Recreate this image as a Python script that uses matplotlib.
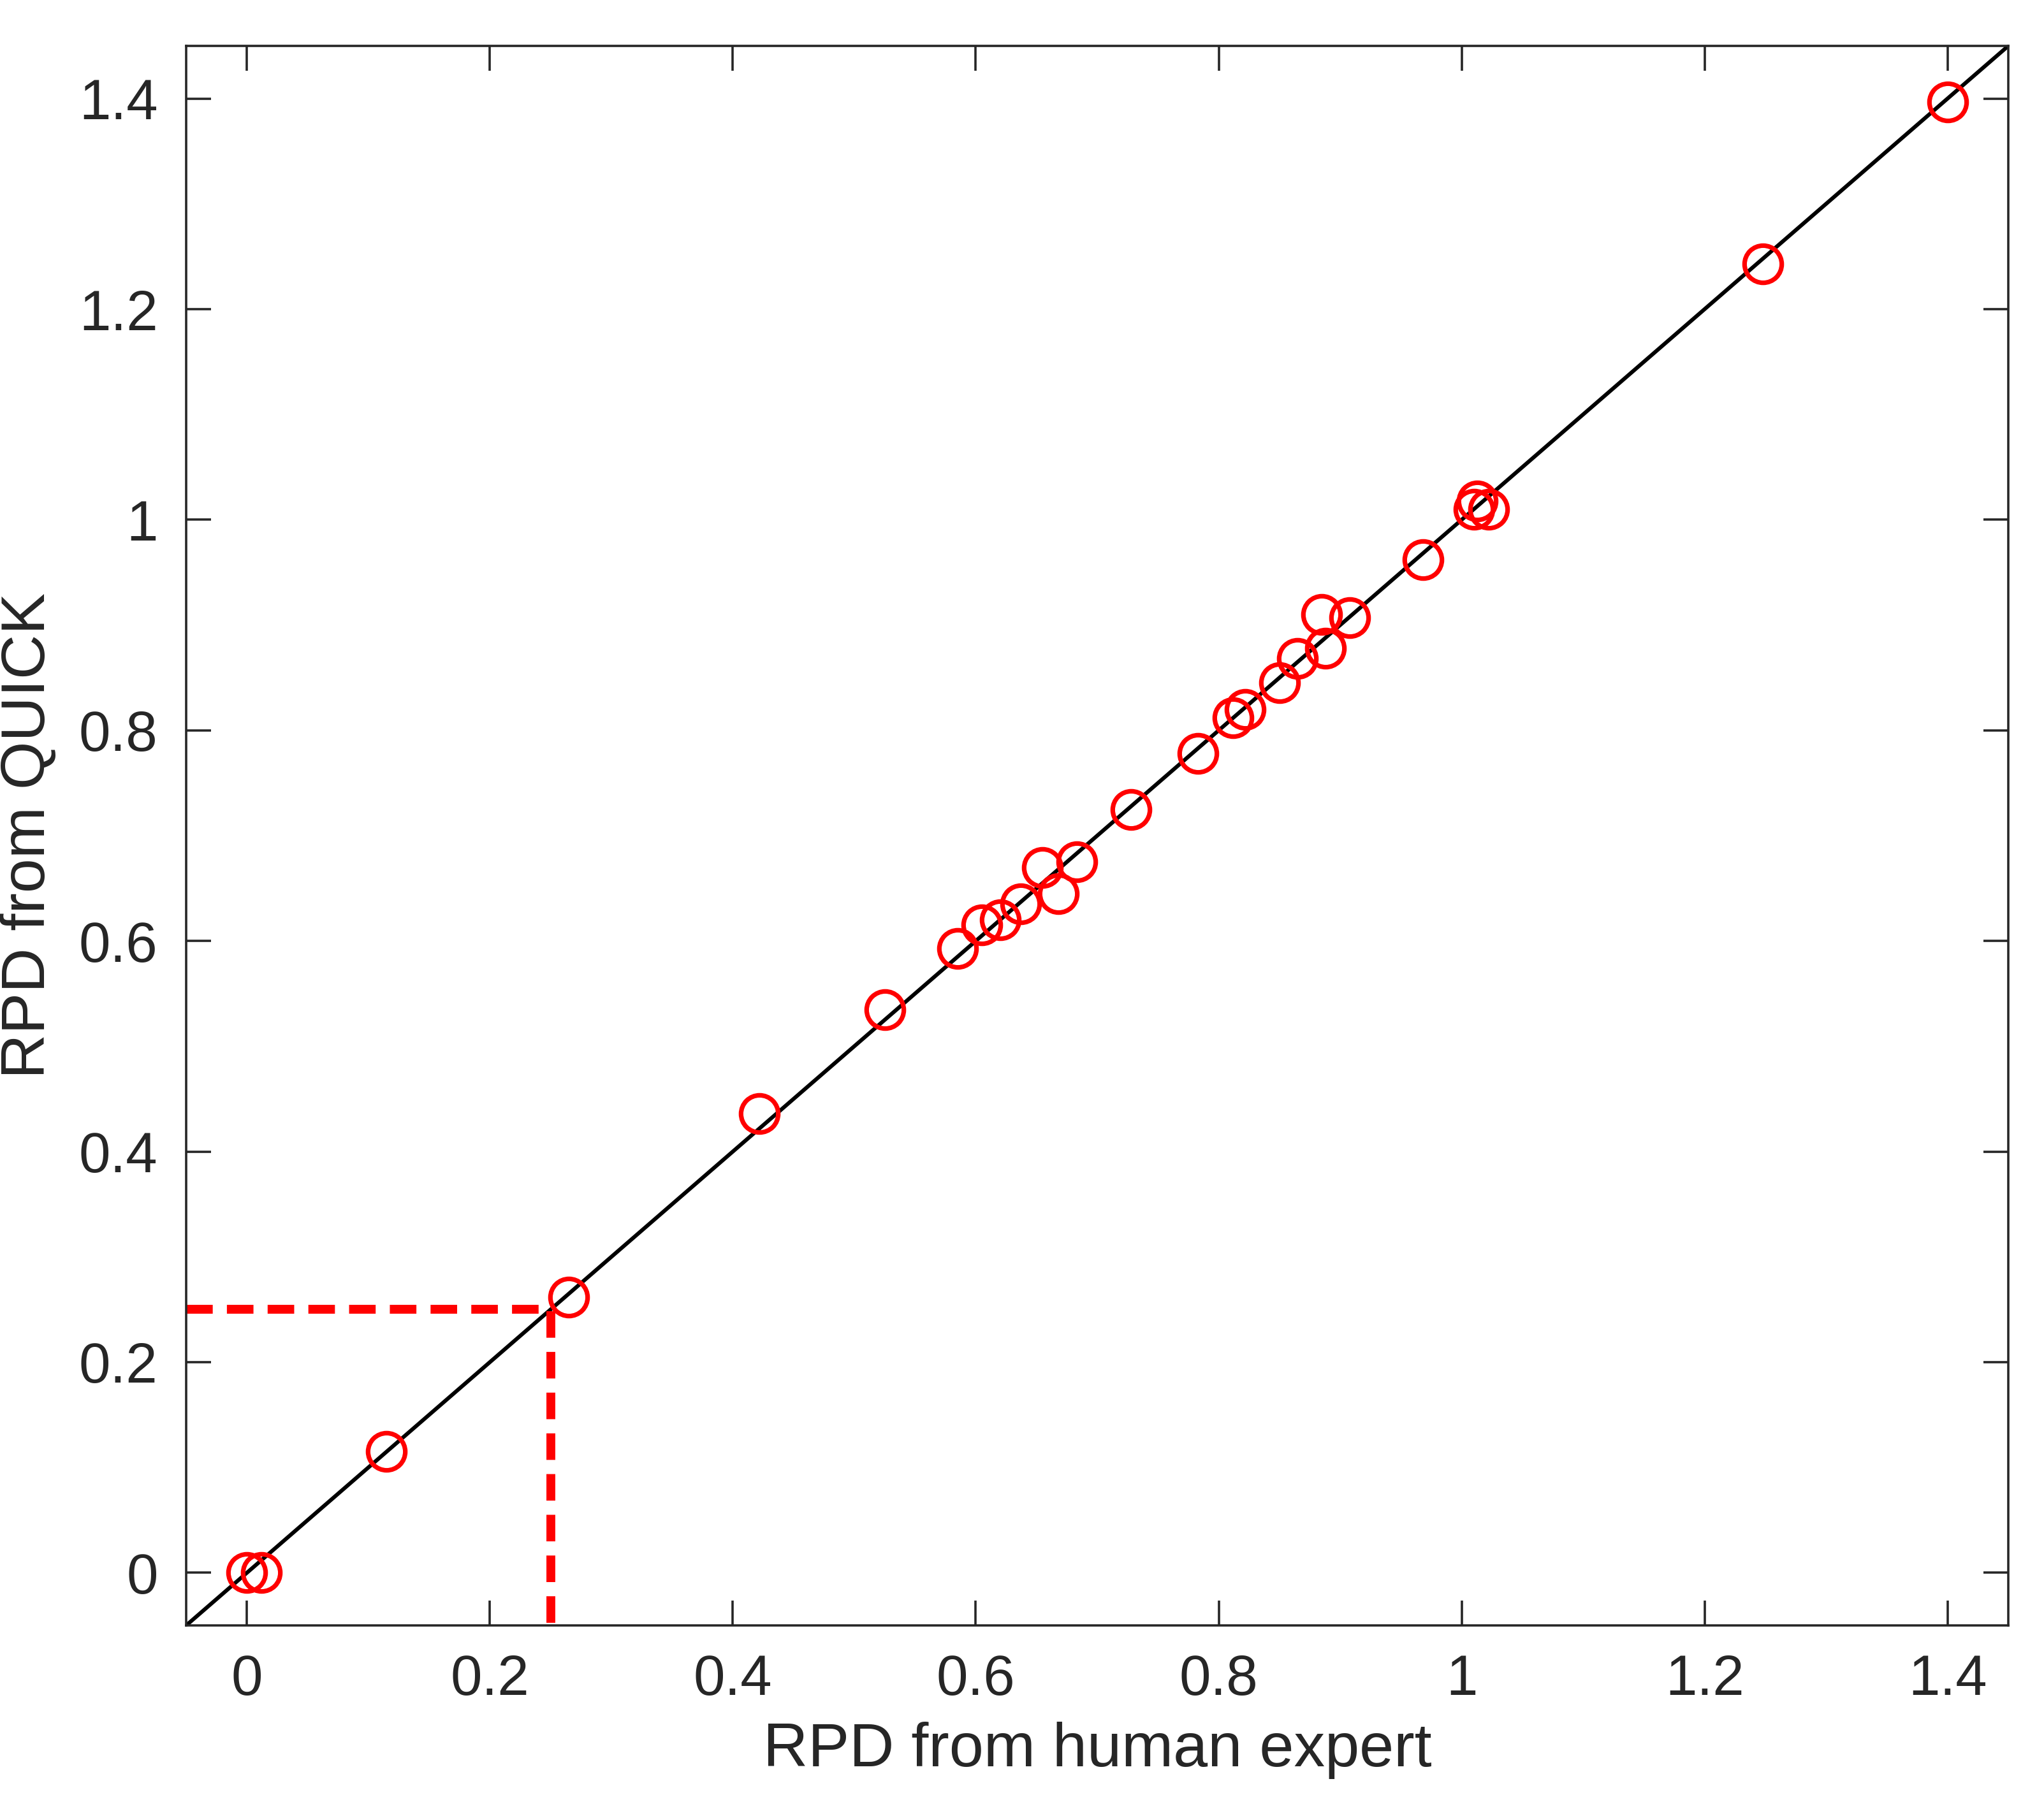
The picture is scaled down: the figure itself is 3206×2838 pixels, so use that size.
import numpy as np
import matplotlib
matplotlib.use("Agg")
from matplotlib import pyplot as plt

plt.rcParams['font.family'] = ['Liberation Sans', 'DejaVu Sans']

# RPD values
rpd_human = [0.0, 0.012, 0.115, 0.265, 0.422, 0.525, 0.585, 0.605, 0.62, 0.637,
             0.655, 0.668, 0.683, 0.728, 0.783, 0.812, 0.822, 0.85, 0.865, 0.885,
             0.888, 0.908, 0.968, 1.01, 1.013, 1.022, 1.248, 1.4]
rpd_quick = [0.0, 0.0, 0.115, 0.262, 0.436, 0.535, 0.593, 0.615, 0.62, 0.635,
             0.67, 0.645, 0.675, 0.725, 0.778, 0.812, 0.82, 0.845, 0.868, 0.91,
             0.878, 0.907, 0.962, 1.01, 1.018, 1.01, 1.243, 1.397]
threshold = 0.25
lims = [-0.05, 1.45]
ticks = [0, 0.2, 0.4, 0.6, 0.8, 1, 1.2, 1.4]
tick_labels = ["0", "0.2", "0.4", "0.6", "0.8", "1", "1.2", "1.4"]

fig = plt.figure(figsize=(16.03, 14.19), dpi=200)
ax = fig.add_axes([292 / 3206, 1 - 2550 / 2838, (3150 - 292) / 3206, (2550 - 72) / 2838])

ax.plot(lims, lims, color="black", lw=2.2)
ax.plot([lims[0], threshold, threshold], [threshold, threshold, lims[0]],
        color="red", lw=5, ls=(0, (3, 1.6)))
ax.plot(rpd_human, rpd_quick, "o", mfc="none", mec="red", ms=21, mew=2.6)

ax.set_xlim(lims)
ax.set_ylim(lims)
ax.set_xticks(ticks)
ax.set_xticklabels(tick_labels)
ax.set_yticks(ticks)
ax.set_yticklabels(tick_labels)
ax.tick_params(direction="in", length=14, width=1.3, labelsize=32,
               top=True, right=True, pad=16, colors="#262626")
for s in ax.spines.values():
    s.set_linewidth(1.3)
    s.set_color("#262626")
ax.set_xlabel("RPD from human expert", fontsize=35, color="#262626", labelpad=8)
ax.set_ylabel("RPD from QUICK", fontsize=35, color="#262626", labelpad=12)

fig.savefig("out.png", dpi=200)
